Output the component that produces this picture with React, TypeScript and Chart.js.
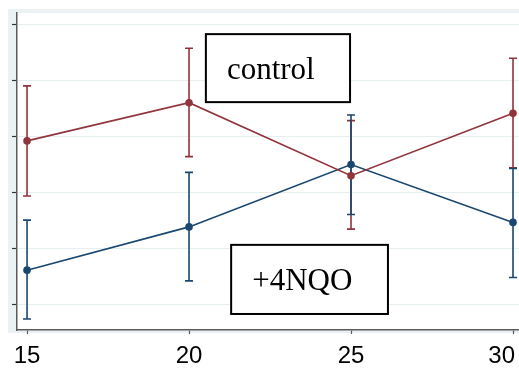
import React, { useEffect, useRef } from "react";
import { Chart, registerables } from "chart.js";

Chart.register(...registerables);

const xValues = [15, 20, 25, 30];
const controlMean = [2.92, 3.6, 2.3, 3.41];
const controlLow = [1.94, 2.64, 1.35, 2.44];
const controlHigh = [3.9, 4.57, 3.28, 4.39];
const nqoMean = [0.62, 1.39, 2.5, 1.47];
const nqoLow = [-0.25, 0.43, 1.61, 0.49];
const nqoHigh = [1.51, 2.36, 3.38, 2.43];
const xTickValues = [15, 20, 25, 30];
const yTickValues = [0, 1, 2, 3, 4, 5];
const labelTexts = ["control", "+4NQO"];

const NAVY = "#1a476f";
const MAROON = "#90353b";
const BAND = "#EAF2F3";
const GRID = "#E6EEF0";
const AXIS = "#5a5a5a";

// annotation boxes in data coordinates
const boxes = [
  { text: labelTexts[0], x0: 20.52, x1: 24.97, y0: 4.82, y1: 3.61 },
  { text: labelTexts[1], x0: 21.3, x1: 26.14, y0: 1.07, y1: -0.16 },
];

const bgPlugin = {
  id: "bgPlugin",
  beforeDraw(chart: any) {
    const { ctx, chartArea, width, height } = chart;
    ctx.save();
    ctx.fillStyle = "#ffffff";
    ctx.fillRect(0, 0, width, height);
    ctx.fillStyle = BAND;
    ctx.fillRect(
      chartArea.left - 9,
      chartArea.top - 4,
      width - (chartArea.left - 9),
      chartArea.bottom + 3 - (chartArea.top - 4)
    );
    ctx.fillStyle = "#ffffff";
    ctx.fillRect(chartArea.left, chartArea.top, chartArea.right - chartArea.left, chartArea.bottom - chartArea.top);
    ctx.restore();
  },
};

const errorBarPlugin = {
  id: "errorBarPlugin",
  beforeDatasetsDraw(chart: any) {
    const { ctx, scales } = chart;
    const xs = scales.x;
    const ys = scales.y;
    const series = [
      { low: controlLow, high: controlHigh, color: MAROON },
      { low: nqoLow, high: nqoHigh, color: NAVY },
    ];
    ctx.save();
    ctx.lineWidth = 1.6;
    series.forEach((s) => {
      ctx.strokeStyle = s.color;
      xValues.forEach((xv, i) => {
        const px = xs.getPixelForValue(xv);
        const pLow = ys.getPixelForValue(s.low[i]);
        const pHigh = ys.getPixelForValue(s.high[i]);
        ctx.beginPath();
        ctx.moveTo(px, pLow);
        ctx.lineTo(px, pHigh);
        ctx.moveTo(px - 4, pLow);
        ctx.lineTo(px + 4, pLow);
        ctx.moveTo(px - 4, pHigh);
        ctx.lineTo(px + 4, pHigh);
        ctx.stroke();
      });
    });
    ctx.restore();
  },
};

// x tick labels drawn from the scale's own ticks, kept inside the canvas
const xLabelPlugin = {
  id: "xLabelPlugin",
  afterDraw(chart: any) {
    const { ctx, scales, chartArea, width } = chart;
    const xs = scales.x;
    ctx.save();
    ctx.fillStyle = "#000000";
    ctx.font = '24px "Liberation Sans", Arial, sans-serif';
    ctx.textAlign = "left";
    ctx.textBaseline = "middle";
    xs.ticks.forEach((t: any) => {
      const label = String(t.value);
      const w = ctx.measureText(label).width;
      const px = xs.getPixelForValue(t.value);
      let left = px - w / 2;
      if (left + w > width - 4) left = width - 4 - w;
      ctx.fillText(label, left, chartArea.bottom + 26);
    });
    ctx.restore();
  },
};

const boxPlugin = {
  id: "boxPlugin",
  afterDatasetsDraw(chart: any) {
    const { ctx, scales } = chart;
    const xs = scales.x;
    const ys = scales.y;
    ctx.save();
    boxes.forEach((b) => {
      const l = xs.getPixelForValue(b.x0);
      const r = xs.getPixelForValue(b.x1);
      const t = ys.getPixelForValue(b.y0);
      const bt = ys.getPixelForValue(b.y1);
      ctx.fillStyle = "#ffffff";
      ctx.fillRect(l, t, r - l, bt - t);
      ctx.strokeStyle = "#000000";
      ctx.lineWidth = 2;
      ctx.strokeRect(l, t, r - l, bt - t);
      ctx.fillStyle = "#000000";
      ctx.font = '31px "Liberation Serif", "DejaVu Serif", serif';
      ctx.textAlign = "left";
      ctx.textBaseline = "alphabetic";
      ctx.fillText(b.text, l + 21, (t + bt) / 2 + 11);
    });
    ctx.restore();
  },
};

export default function App() {
  const canvasRef = useRef<HTMLCanvasElement | null>(null);

  useEffect(() => {
    const canvas = canvasRef.current;
    if (!canvas) return;
    const chart = new Chart(canvas, {
      type: "line",
      data: {
        datasets: [
          {
            label: labelTexts[0],
            data: xValues.map((x, i) => ({ x, y: controlMean[i] })),
            borderColor: MAROON,
            backgroundColor: MAROON,
            borderWidth: 1.6,
            pointRadius: 3.8,
            pointBorderWidth: 0,
            tension: 0,
          },
          {
            label: labelTexts[1],
            data: xValues.map((x, i) => ({ x, y: nqoMean[i] })),
            borderColor: NAVY,
            backgroundColor: NAVY,
            borderWidth: 1.6,
            pointRadius: 3.8,
            pointBorderWidth: 0,
            tension: 0,
          },
        ],
      },
      options: {
        animation: false,
        responsive: false,
        devicePixelRatio: 1,
        layout: { autoPadding: false, padding: { left: 12, top: 13, right: 0, bottom: 0 } },
        plugins: {
          legend: { display: false },
          tooltip: { enabled: false },
          title: { display: false },
        },
        scales: {
          x: {
            type: "linear",
            min: 14.69,
            max: 30.185,
            afterBuildTicks: (scale: any) => {
              scale.ticks = xTickValues.map((v) => ({ value: v }));
            },
            afterFit: (scale: any) => {
              scale.height = 44;
              scale.paddingLeft = 0;
              scale.paddingRight = 0;
            },
            ticks: { display: false },
            grid: {
              drawOnChartArea: false,
              drawTicks: true,
              tickLength: 4,
              tickColor: AXIS,
              tickWidth: 1.2,
            },
            border: { display: true, color: AXIS, width: 1.5 },
          },
          y: {
            type: "linear",
            min: -0.445,
            max: 5.196,
            afterBuildTicks: (scale: any) => {
              scale.ticks = yTickValues.map((v) => ({ value: v }));
            },
            afterFit: (scale: any) => {
              scale.width = 5;
              scale.paddingTop = 0;
              scale.paddingBottom = 0;
            },
            ticks: { display: false },
            grid: {
              color: GRID,
              lineWidth: 1,
              drawTicks: true,
              tickLength: 5,
              tickColor: "#333333",
              tickWidth: 1.2,
            },
            border: { display: true, color: AXIS, width: 1.5 },
          },
        },
      },
      plugins: [bgPlugin, errorBarPlugin, boxPlugin, xLabelPlugin],
    });
    return () => chart.destroy();
  }, []);

  return (
    <div style={{ position: "absolute", left: 0, top: 0, width: 519, height: 374 }}>
      <canvas ref={canvasRef} width={519} height={374} style={{ display: "block" }} />
    </div>
  );
}
